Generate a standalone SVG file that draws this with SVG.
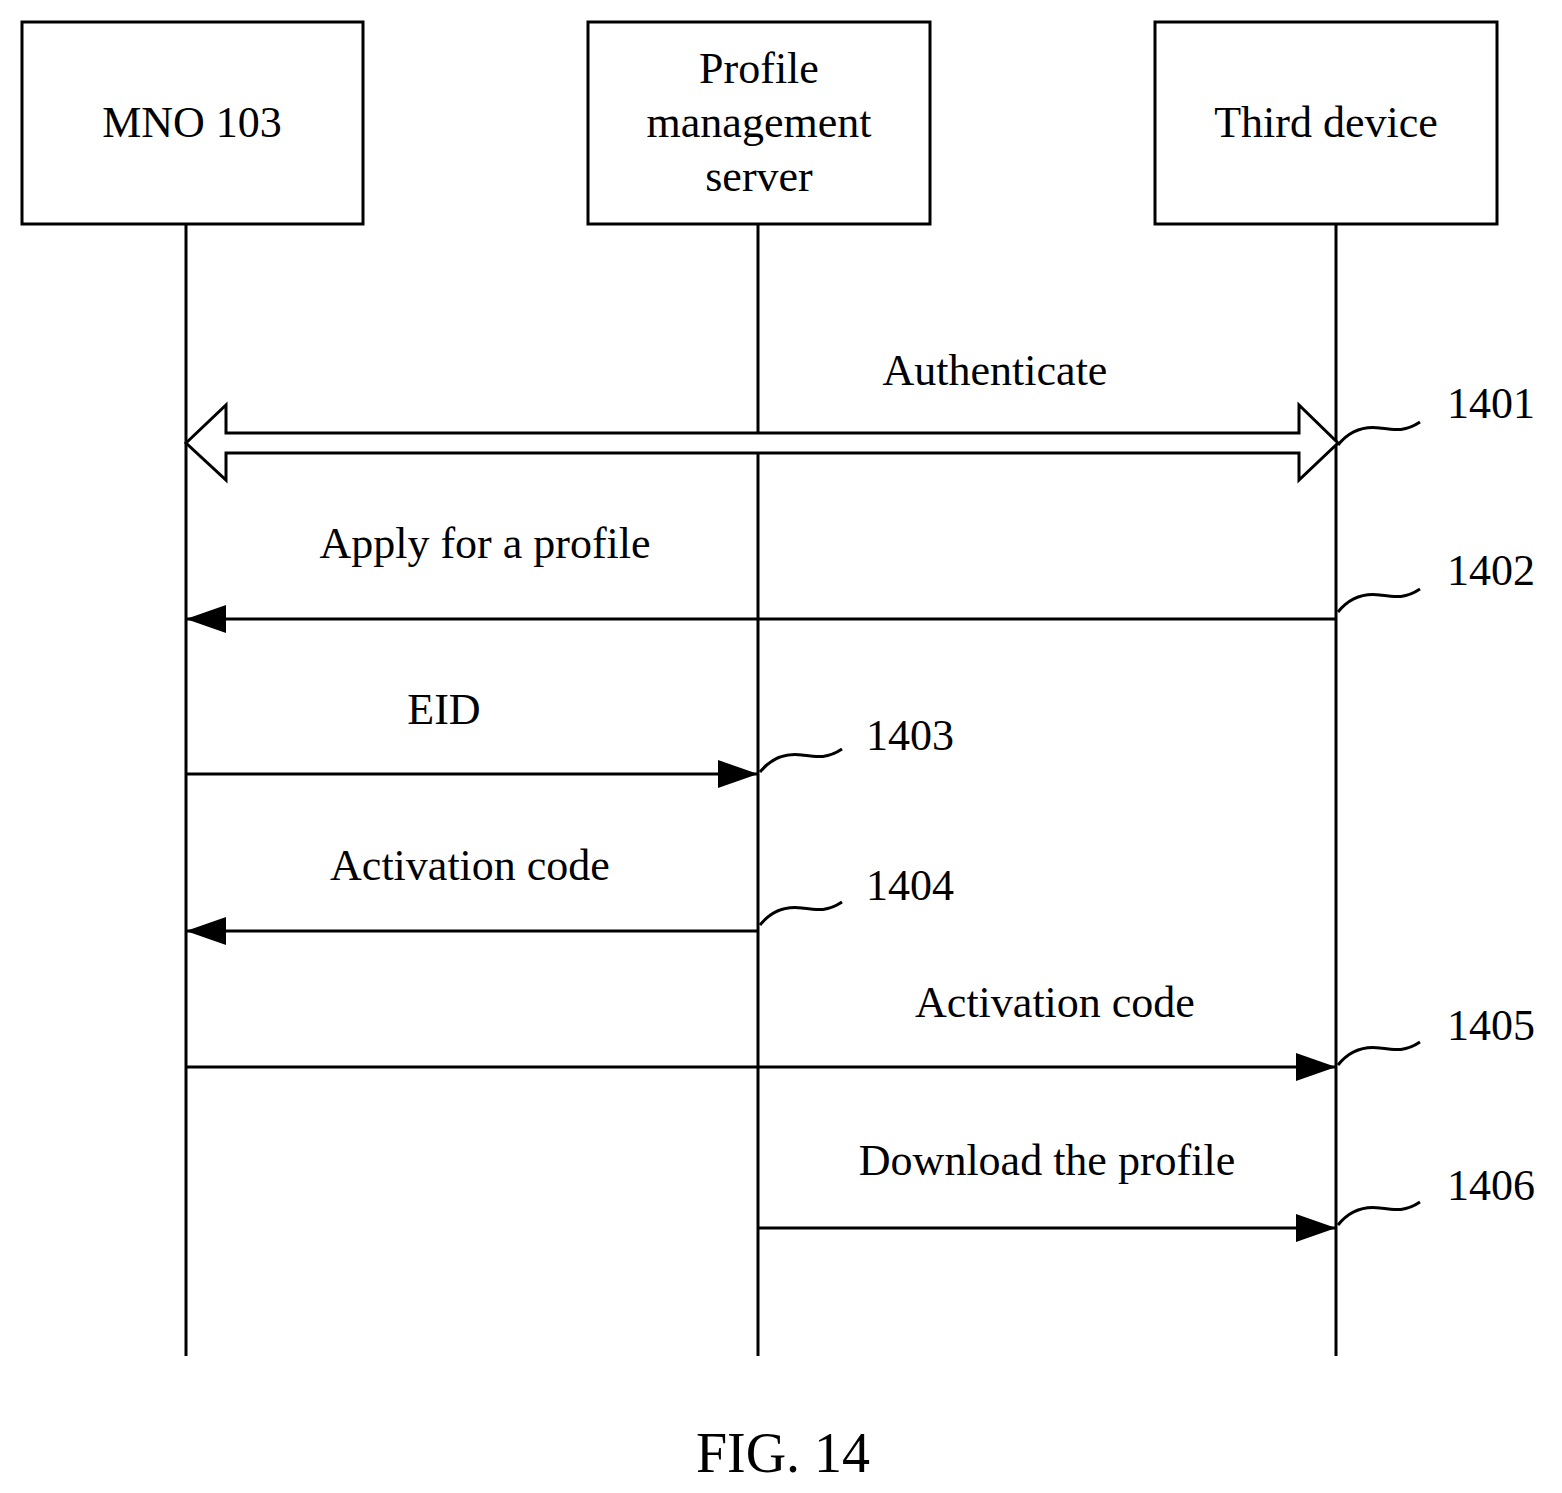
<svg xmlns="http://www.w3.org/2000/svg" width="1562" height="1493" viewBox="0 0 1562 1493">
<style>
.b{fill:#fff;stroke:#000;stroke-width:3}
.l{stroke:#000;stroke-width:3;fill:none}
text{font-family:"Liberation Serif",serif;font-size:44px;fill:#000}
.c{text-anchor:middle}
</style>
<defs>
<marker id="a" markerWidth="12" markerHeight="10" refX="12" refY="5" orient="auto" markerUnits="userSpaceOnUse" viewBox="0 0 12 10"><path d="M0,0L12,5L0,10z"/></marker>
<marker id="ah" markerWidth="40" markerHeight="28" refX="40" refY="14" orient="auto" markerUnits="userSpaceOnUse"><path d="M0,0L40,14L0,28z" fill="#000"/></marker>
</defs>
<rect width="1562" height="1493" fill="#fff"/>
<g id="mno"><rect class="b" x="22" y="22" width="341" height="202"/><text class="c" x="192" y="137">MNO 103</text></g>
<g id="pms"><rect class="b" x="588" y="22" width="342" height="202"/><text class="c" x="759" y="83">Profile</text><text class="c" x="759" y="137">management</text><text class="c" x="759" y="191">server</text></g>
<g id="third"><rect class="b" x="1155" y="22" width="342" height="202"/><text class="c" x="1326" y="137">Third device</text></g>
<g id="connectors">
<line class="l" x1="186" y1="224" x2="186" y2="1356"/>
<line class="l" x1="758" y1="224" x2="758" y2="1356"/>
<line class="l" x1="1336" y1="224" x2="1336" y2="1356"/>
<path class="b" d="M186,443L226,405L226,433L1299,433L1299,405L1338,443L1299,480L1299,453L226,453L226,480Z"/>
<line class="l" x1="1336" y1="619" x2="186" y2="619" marker-end="url(#ah)"/>
<line class="l" x1="186" y1="774" x2="758" y2="774" marker-end="url(#ah)"/>
<line class="l" x1="758" y1="931" x2="186" y2="931" marker-end="url(#ah)"/>
<line class="l" x1="186" y1="1067" x2="1336" y2="1067" marker-end="url(#ah)"/>
<line class="l" x1="758" y1="1228" x2="1336" y2="1228" marker-end="url(#ah)"/>
<path class="l" d="M1338,445C1350,430 1365,426 1380,428C1395,430 1405,432 1420,422"/>
<path class="l" d="M1338,612C1350,597 1365,593 1380,595C1395,597 1405,599 1420,589"/>
<path class="l" d="M760,772C772,757 787,753 802,755C817,757 827,759 842,749"/>
<path class="l" d="M760,925C772,910 787,906 802,908C817,910 827,912 842,902"/>
<path class="l" d="M1338,1065C1350,1050 1365,1046 1380,1048C1395,1050 1405,1052 1420,1042"/>
<path class="l" d="M1338,1225C1350,1210 1365,1206 1380,1208C1395,1210 1405,1212 1420,1202"/>
</g>
<g id="labels">
<text class="c" x="995" y="385">Authenticate</text>
<text x="1447" y="418">1401</text>
<text class="c" x="485" y="558">Apply for a profile</text>
<text x="1447" y="585">1402</text>
<text class="c" x="444" y="724">EID</text>
<text x="866" y="750">1403</text>
<text class="c" x="470" y="880">Activation code</text>
<text x="866" y="900">1404</text>
<text class="c" x="1055" y="1017">Activation code</text>
<text x="1447" y="1040">1405</text>
<text class="c" x="1047" y="1175">Download the profile</text>
<text x="1447" y="1200">1406</text>
<text class="c" x="783" y="1472" style="font-size:56px">FIG. 14</text>
</g>
</svg>
